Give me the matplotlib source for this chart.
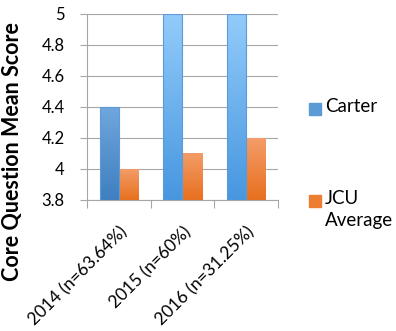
import numpy as np
import matplotlib.pyplot as plt
from matplotlib.colors import LinearSegmentedColormap
from matplotlib.patches import Rectangle

plt.rcParams['font.family'] = ['Lato', 'DejaVu Sans']

categories = ['2014 (n=63.64%)', '2015 (n=60%)', '2016 (n=31.25%)']
carter = [4.4, 5.0, 5.0]
jcu_avg = [4.0, 4.1, 4.2]
yticks = [3.8, 4, 4.2, 4.4, 4.6, 4.8, 5]

W, H = 396, 331
fig = plt.figure(figsize=(W / 100, H / 100), dpi=100)
ax = fig.add_axes([87 / W, 1 - 200 / H, 191 / W, 186 / H])

x = np.arange(len(categories))
w = 0.3
grad = np.linspace(0, 1, 100).reshape(-1, 1)

blue_cm = LinearSegmentedColormap.from_list('b', ['#4797E0', '#92CBFA'])
blue_dark = LinearSegmentedColormap.from_list('bd', ['#3F7FC0', '#70A6DC'])
orange_cm = LinearSegmentedColormap.from_list('o', ['#E8701E', '#F39C68'])

def grad_bars(xs, vals, cmap_list, edge):
    bars = ax.bar(xs, vals, w, bottom=0, color='none', edgecolor=edge, linewidth=0.8, zorder=3)
    for b, cm in zip(bars, cmap_list):
        x0, y0 = b.get_x(), 3.8
        x1, y1 = x0 + b.get_width(), b.get_height()
        im = ax.imshow(grad, cmap=cm, aspect='auto', origin='lower',
                       extent=[x0, x1, y0, y1], zorder=2)
        im.set_clip_path(b)
    return bars

grad_bars(x - w / 2, carter, [blue_dark, blue_cm, blue_cm], '#5C9BD8')
grad_bars(x + w / 2, jcu_avg, [orange_cm] * 3, 'none')

ax.set_xlim(-0.5, 2.5)
ax.set_ylim(3.8, 5)
ax.set_yticks(yticks)
ax.set_yticklabels([f'{t:g}' for t in yticks], fontsize=12)
ax.yaxis.grid(True, color='#A6A6A6', linewidth=0.8, zorder=0)
ax.set_axisbelow(True)
ax.tick_params(axis='y', length=5, color='#A6A6A6', pad=11)

ax.set_xticks([-0.5, 0.5, 1.5, 2.5], minor=False)
ax.set_xticklabels([])
ax.tick_params(axis='x', length=6, color='#A6A6A6', direction='out')
ax.set_xticks(x, minor=True)
ax.set_xticklabels(categories, minor=True, rotation=45, ha='right',
                   rotation_mode='anchor', fontsize=12.5)
ax.tick_params(axis='x', which='minor', length=0, pad=17)

for s in ['top', 'right']:
    ax.spines[s].set_visible(False)
for s in ['left', 'bottom']:
    ax.spines[s].set_color('#A6A6A6')

ax.set_ylabel('Core Question Mean Score', fontsize=15.5, fontweight='bold')
ax.yaxis.set_label_coords(-0.335, 0.26)

# legend drawn by hand so the orange square sits on the "JCU" line
leg_colors = ['#5B9BD5', '#ED7D31']
leg_labels = ['Carter', 'JCU\nAverage']
leg_tops = [103, 195]
for c, lab, top in zip(leg_colors, leg_labels, leg_tops):
    fig.add_artist(Rectangle((309 / W, 1 - (top + 12) / H), 12 / W, 12 / H,
                             transform=fig.transFigure, color=c))
    fig.text(325 / W, 1 - (top - 5) / H, lab, fontsize=13.5, va='top', ha='left',
             linespacing=1.35)

fig.savefig('out.png', dpi=100)
